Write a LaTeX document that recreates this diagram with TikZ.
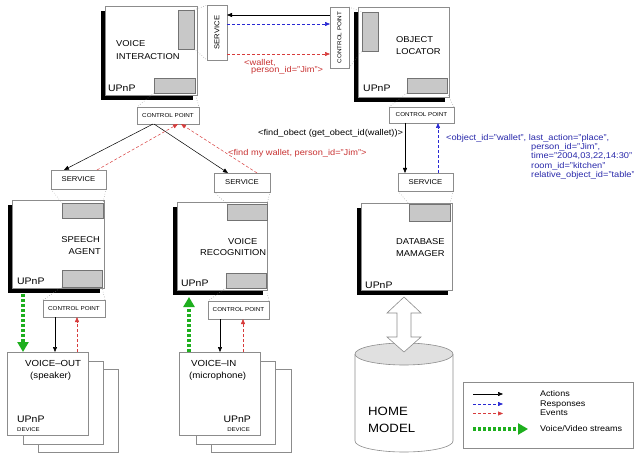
\documentclass[tikz,border=0pt]{standalone}
\usepackage{fontspec}
\setmainfont{Liberation Sans}[FakeStretch=1.1]
\usetikzlibrary{arrows.meta,shadows,calc}
\definecolor{evred}{RGB}{215,60,60}
\definecolor{txred}{RGB}{200,50,50}
\definecolor{rsblue}{RGB}{40,40,210}
\definecolor{txblue}{RGB}{40,40,170}
\definecolor{strgreen}{RGB}{30,175,30}
\definecolor{boxgray}{RGB}{140,140,140}
\definecolor{fillgray}{RGB}{200,200,200}
\newcommand\cpfont{\fontsize{5.7}{6}\selectfont}
\newcommand\svcfont{\fontsize{7}{8}\selectfont}
\newcommand\mkbox[7][]{%
 \pgfmathsetmacro\mkbw{#5-#3}\pgfmathsetmacro\mkbh{#6-#4}%
 \node[anchor=north west, minimum width=\mkbw pt, minimum height=\mkbh pt, inner sep=0pt, outer sep=0pt, #1] (#2) at (#3,#4) {#7};}
\newcommand\tx[5][]{\node[txt,#1] (#2) at (#3,#4) {#5};}
\begin{document}
\begin{tikzpicture}[x=1pt,y=-1pt,
 comp/.style={draw=boxgray, fill=white, line width=0.6pt, drop shadow={shadow xshift=-4pt,shadow yshift=-5pt,fill=black,opacity=1}},
 plain/.style={draw=boxgray, fill=white, line width=0.6pt},
 gbox/.style={draw=black!55, fill=fillgray, line width=0.6pt},
 dotl/.style={draw=black!50, dotted, line width=0.5pt},
 act/.style={draw=black, line width=0.5pt, -{Triangle[length=5pt,width=4pt]}},
 resp/.style={draw=rsblue, line width=0.5pt, dash pattern=on 3pt off 2pt, -{Triangle[length=5pt,width=4pt]}},
 evt/.style={draw=evred, line width=0.5pt, dash pattern=on 3pt off 2pt, -{Triangle[length=5pt,width=4pt]}},
 stream/.style={draw=strgreen, line width=4pt, dash pattern=on 3pt off 2pt, -{Triangle[length=10pt,width=11pt]}},
 txt/.style={anchor=base west, inner sep=0pt, font=\fontsize{8.5}{10}\selectfont},
 upnp/.style={txt, font=\fontsize{9.5}{10}\selectfont},
 lab/.style={txt, font=\fontsize{8.4}{10}\selectfont},
 dev/.style={txt, font=\fontsize{5.5}{6}\selectfont},
 legt/.style={txt, font=\fontsize{8.2}{10}\selectfont}
]
\useasboundingbox (0,0) rectangle (634,454);
% ---- components
\mkbox[comp]{vi}{105}{6}{197}{95}{}
\mkbox[gbox]{viT}{178}{10}{194}{49}{}
\mkbox[gbox]{viB}{154}{78}{195}{93}{}
\mkbox[plain]{svVI}{207}{5}{227}{60}{\rotatebox{90}{\svcfont SERVICE}}
\mkbox[plain]{cpVI}{137}{107}{199}{124}{\cpfont CONTROL POINT}
\mkbox[comp]{ol}{358}{7}{449}{97}{}
\mkbox[gbox]{olT}{362}{12}{378}{51}{}
\mkbox[gbox]{olB}{407}{78}{447}{93}{}
\mkbox[plain]{cpOLv}{330}{7}{349}{68}{\rotatebox{90}{\cpfont CONTROL POINT}}
\mkbox[plain]{cpOL}{389}{107}{454}{123}{\cpfont CONTROL POINT}
\mkbox[plain]{svSA}{51}{170}{106}{189}{\svcfont SERVICE}
\mkbox[comp]{sa}{12}{200}{104}{288}{}
\mkbox[gbox]{saT}{62}{203}{103}{218}{}
\mkbox[gbox]{saB}{62}{270}{102}{287}{}
\mkbox[plain]{cpSA}{43}{300}{105}{317}{\cpfont CONTROL POINT}
\mkbox[plain]{svVR}{214}{173}{270}{192}{\svcfont SERVICE}
\mkbox[comp]{vr}{177}{202}{267}{290}{}
\mkbox[gbox]{vrT}{227}{204}{267}{220}{}
\mkbox[gbox]{vrB}{226}{273}{266}{288}{}
\mkbox[plain]{cpVR}{208}{301}{269}{319}{\cpfont CONTROL POINT}
\mkbox[plain]{svDB}{398}{173}{453}{191}{\svcfont SERVICE}
\mkbox[comp]{db}{361}{203}{452}{290}{}
\mkbox[gbox]{dbT}{409}{204}{450}{221}{}
% ---- device stacks
\mkbox[plain]{vo3}{38}{369}{118}{452}{}
\mkbox[plain]{vo2}{23}{361}{103}{444}{}
\mkbox[plain]{vo1}{7}{352}{88}{435}{}
\mkbox[plain]{vi3}{211}{369}{291}{452}{}
\mkbox[plain]{vi2}{196}{361}{275}{444}{}
\mkbox[plain]{vi1}{179}{352}{260}{435}{}
% ---- dotted joins
\draw[dotl] (viT.north east) -- (svVI.north west);
\draw[dotl] (viT.south east) -- (svVI.south west);
\draw[dotl] (viB.south west) -- (cpVI.north west);
\draw[dotl] (viB.south east) -- (cpVI.north east);
\draw[dotl] (cpOLv.north east) -- (olT.north west);
\draw[dotl] (cpOLv.south east) -- (olT.south west);
\draw[dotl] (olB.south west) -- (cpOL.north west);
\draw[dotl] (olB.south east) -- (cpOL.north east);
\draw[dotl] (svSA.south west) -- (saT.north west);
\draw[dotl] (svSA.south east) -- (saT.north east);
\draw[dotl] (saB.south west) -- (cpSA.north west);
\draw[dotl] (saB.south east) -- (cpSA.north east);
\draw[dotl] (svVR.south west) -- (vrT.north west);
\draw[dotl] (svVR.south east) -- (vrT.north east);
\draw[dotl] (vrB.south west) -- (cpVR.north west);
\draw[dotl] (vrB.south east) -- (cpVR.north east);
\draw[dotl] (svDB.south west) -- (dbT.north west);
\draw[dotl] (svDB.south east) -- (dbT.north east);
% ---- home model cylinder
\draw[draw=boxgray, fill=white, line width=0.6pt] (355,354) -- (355,441) arc[start angle=180,end angle=360,x radius=49pt,y radius=11pt] -- (453,354);
\draw[draw=boxgray, fill=black!12, line width=0.6pt] (404,354) ellipse [x radius=49pt, y radius=11pt];
\draw[draw=boxgray, fill=white, line width=0.6pt] (404,297) -- (421,313) -- (411,313) -- (411,337) -- (421,337) -- (404,352) -- (387,337) -- (397,337) -- (397,313) -- (387,313) -- cycle;
% ---- connectors
\draw[act] (cpOLv.west |- 0,15) -- (svVI.east |- 0,15);
\draw[resp] (svVI.east |- 0,24) -- (cpOLv.west |- 0,24);
\draw[evt] (svVI.east |- 0,54) -- (cpOLv.west |- 0,54);
\draw[act] (cpVI.south -| 153,0) -- (svSA.north -| 64,0);
\draw[act] (cpVI.south -| 154,0) -- (svVR.north -| 228,0);
\draw[evt] (svSA.north -| 97,0) -- (cpVI.south -| 178,0);
\draw[evt] (svVR.north -| 257,0) -- (cpVI.south -| 181,0);
\draw[act] (cpOL.south -| 405,0) -- (svDB.north -| 405,0);
\draw[resp] (svDB.north -| 438,0) -- (cpOL.south -| 438,0);
\draw[act] (cpSA.south -| 55,0) -- (vo1.north -| 55,0);
\draw[evt] (vo1.north -| 77,0) -- (cpSA.south -| 77,0);
\draw[act] (cpVR.south -| 220,0) -- (vi1.north -| 220,0);
\draw[evt] (vi1.north -| 243,0) -- (cpVR.south -| 243,0);
\coordinate (saOut) at (23,294);
\draw[stream] (saOut) -- (vo1.north -| saOut);
\coordinate (vrIn) at (189,297);
\draw[stream] (vi1.north -| vrIn) -- (vrIn);
% ---- texts
\tx{tVI1}{116}{46.5}{VOICE}
\tx{tVI2}{116}{59.5}{INTERACTION}
\tx[upnp]{uVI}{108}{92}{UPnP}
\tx{tOL1}{396}{43}{OBJECT}
\tx{tOL2}{396}{54.5}{LOCATOR}
\tx[upnp]{uOL}{363}{92}{UPnP}
\tx[anchor=base east]{tSA1}{100}{243}{SPEECH}
\tx[anchor=base east]{tSA2}{101}{254.5}{AGENT}
\tx[upnp]{uSA}{17}{284}{UPnP}
\tx{tVR1}{228}{244}{VOICE}
\tx{tVR2}{200}{255}{RECOGNITION}
\tx[upnp]{uVR}{181}{287}{UPnP}
\tx{tDB1}{396}{245}{DATABASE}
\tx{tDB2}{396}{257}{MAMAGER}
\tx[upnp]{uDB}{365}{288}{UPnP}
\tx[font=\fontsize{8.8}{10}\selectfont]{tVO1}{25}{366}{VOICE--OUT}
\tx[font=\fontsize{8.8}{10}\selectfont]{tVO2}{30}{378}{(speaker)}
\tx[upnp]{uVO}{17}{422}{UPnP}
\tx[dev]{dVO}{17}{431}{DEVICE}
\tx[font=\fontsize{8.8}{10}\selectfont]{tVN1}{191}{366}{VOICE--IN}
\tx[font=\fontsize{8.8}{10}\selectfont]{tVN2}{189}{378}{(microphone)}
\tx[upnp,anchor=base east]{uVN}{251}{422}{UPnP}
\tx[dev,anchor=base east]{dVN}{250}{431}{DEVICE}
\tx[font=\fontsize{12}{14}\selectfont]{tHM1}{368}{415}{HOME}
\tx[font=\fontsize{12}{14}\selectfont]{tHM2}{368}{432}{MODEL}
\tx[lab,text=txred]{lw1}{244}{66}{<wallet,}
\tx[lab,text=txred]{lw2}{251}{73}{person\_id="Jim">}
\tx[lab]{lfind}{258}{135.5}{<find\_obect (get\_obect\_id(wallet))>}
\tx[lab,text=txred]{lmy}{228}{156}{<find my wallet, person\_id="Jim">}
\tx[lab,text=txblue]{lb1}{446}{141}{<object\_id="wallet", last\_action="place",}
\tx[lab,text=txblue]{lb2}{531}{149.5}{person\_id="Jim",}
\tx[lab,text=txblue]{lb3}{531}{159}{time="2004,03,22,14:30"}
\tx[lab,text=txblue]{lb4}{531}{168.5}{room\_id="kitchen"}
\tx[lab,text=txblue]{lb5}{531}{178}{relative\_object\_id="table"}
% ---- legend
\mkbox[plain]{leg}{463}{382}{633}{448}{}
\coordinate (la1) at (473,394); \coordinate (la2) at (503,394);
\coordinate (lr1) at (473,404); \coordinate (lr2) at (503,404);
\coordinate (le1) at (473,413.5); \coordinate (le2) at (503,413.5);
\coordinate (ls1) at (473,429); \coordinate (ls2) at (528,429);
\draw[act] (la1) -- (la2);
\draw[resp] (lr1) -- (lr2);
\draw[evt] (le1) -- (le2);
\draw[stream] (ls1) -- (ls2);
\tx[legt]{gA}{540}{396.5}{Actions}
\tx[legt]{gR}{540}{406}{Responses}
\tx[legt]{gE}{540}{415.5}{Events}
\tx[legt]{gS}{540}{431.5}{Voice/Video streams}
\end{tikzpicture}
\end{document}
